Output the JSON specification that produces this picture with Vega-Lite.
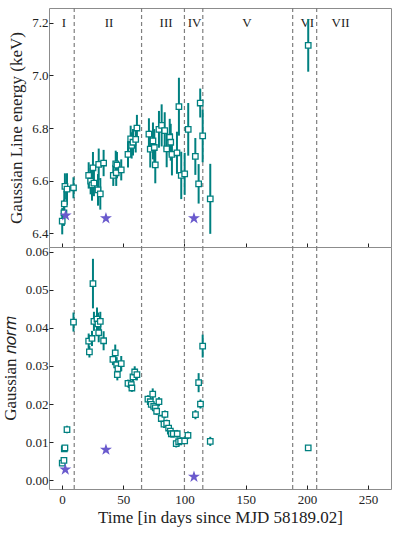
{
  "$schema": "https://vega.github.io/schema/vega-lite/v6.json",
  "padding": {"left": 0, "top": 6, "right": 6, "bottom": 4},
  "spacing": 0,
  "bounds": "flush",
  "config": {
    "font": "Liberation Serif",
    "view": {"stroke": "#8c8c8c", "strokeWidth": 1},
    "axis": {
      "grid": false,
      "domain": false,
      "tickSize": -4,
      "tickColor": "#222",
      "tickWidth": 1,
      "labelFont": "Liberation Serif",
      "labelFontSize": 13,
      "labelColor": "#222",
      "titleFont": "Liberation Serif",
      "titleFontSize": 17,
      "titleFontWeight": "normal",
      "titleColor": "#222"
    }
  },
  "datasets": {
    "energy": [
      {"t": 0.2, "v": 6.446, "e": 0.05},
      {"t": 1.6, "v": 6.478, "e": 0.05},
      {"t": 1.9, "v": 6.512, "e": 0.05},
      {"t": 2.4, "v": 6.578, "e": 0.05},
      {"t": 4.1, "v": 6.568, "e": 0.06},
      {"t": 9.4, "v": 6.573, "e": 0.04},
      {"t": 21.8, "v": 6.62, "e": 0.05},
      {"t": 23.4, "v": 6.598, "e": 0.05},
      {"t": 24.5, "v": 6.584, "e": 0.06},
      {"t": 25.3, "v": 6.649, "e": 0.06},
      {"t": 26.1, "v": 6.591, "e": 0.05},
      {"t": 29.4, "v": 6.565, "e": 0.06},
      {"t": 30.0, "v": 6.662, "e": 0.06},
      {"t": 31.3, "v": 6.55, "e": 0.06},
      {"t": 34.0, "v": 6.667, "e": 0.05},
      {"t": 41.9, "v": 6.62, "e": 0.04},
      {"t": 43.9, "v": 6.664, "e": 0.05},
      {"t": 44.3, "v": 6.63, "e": 0.05},
      {"t": 44.9, "v": 6.659, "e": 0.05},
      {"t": 48.4, "v": 6.641, "e": 0.04},
      {"t": 53.9, "v": 6.70, "e": 0.05},
      {"t": 56.1, "v": 6.759, "e": 0.05},
      {"t": 56.9, "v": 6.734, "e": 0.05},
      {"t": 58.0, "v": 6.746, "e": 0.05},
      {"t": 60.2, "v": 6.757, "e": 0.05},
      {"t": 61.2, "v": 6.80, "e": 0.05},
      {"t": 71.0, "v": 6.777, "e": 0.06},
      {"t": 72.1, "v": 6.72, "e": 0.07},
      {"t": 74.3, "v": 6.751, "e": 0.07},
      {"t": 75.4, "v": 6.726, "e": 0.07},
      {"t": 76.2, "v": 6.66, "e": 0.07},
      {"t": 79.2, "v": 6.795, "e": 0.07},
      {"t": 81.4, "v": 6.81, "e": 0.08},
      {"t": 83.9, "v": 6.79, "e": 0.07},
      {"t": 85.5, "v": 6.721, "e": 0.07},
      {"t": 88.0, "v": 6.765, "e": 0.07},
      {"t": 88.8, "v": 6.746, "e": 0.07},
      {"t": 89.8, "v": 6.70, "e": 0.08},
      {"t": 93.9, "v": 6.706, "e": 0.08},
      {"t": 95.5, "v": 6.881, "e": 0.11},
      {"t": 97.4, "v": 6.62, "e": 0.09},
      {"t": 100.2, "v": 6.626, "e": 0.08},
      {"t": 103.1, "v": 6.795, "e": 0.1},
      {"t": 108.9, "v": 6.692, "e": 0.07},
      {"t": 111.6, "v": 6.588, "e": 0.075},
      {"t": 112.9, "v": 6.895, "e": 0.055},
      {"t": 114.9, "v": 6.77, "e": 0.1},
      {"t": 121.1, "v": 6.531, "e": 0.133},
      {"t": 201.1, "v": 7.114, "e": 0.1}
    ],
    "norm": [
      {"t": 0.2, "v": 0.0045, "e": 0.0005},
      {"t": 1.6, "v": 0.0052, "e": 0.0004},
      {"t": 1.9, "v": 0.0082, "e": 0.0005},
      {"t": 2.4, "v": 0.0085, "e": 0.0005},
      {"t": 4.1, "v": 0.0133, "e": 0.001},
      {"t": 9.4, "v": 0.0415, "e": 0.0025},
      {"t": 21.8, "v": 0.0365, "e": 0.002},
      {"t": 22.4, "v": 0.0337, "e": 0.0015},
      {"t": 24.5, "v": 0.0372, "e": 0.002},
      {"t": 25.3, "v": 0.0516, "e": 0.0065},
      {"t": 26.1, "v": 0.0417, "e": 0.0025},
      {"t": 28.6, "v": 0.0423, "e": 0.003},
      {"t": 29.4, "v": 0.041, "e": 0.003},
      {"t": 30.0, "v": 0.0387, "e": 0.0025},
      {"t": 31.3, "v": 0.0417, "e": 0.0025},
      {"t": 34.0, "v": 0.0366, "e": 0.0025},
      {"t": 41.6, "v": 0.0317, "e": 0.0015},
      {"t": 43.5, "v": 0.0334, "e": 0.0022},
      {"t": 44.7, "v": 0.0303, "e": 0.002},
      {"t": 45.2, "v": 0.0277, "e": 0.0015},
      {"t": 45.7, "v": 0.0293, "e": 0.0015},
      {"t": 48.4, "v": 0.0306, "e": 0.002},
      {"t": 53.9, "v": 0.0254, "e": 0.001},
      {"t": 56.6, "v": 0.0251, "e": 0.001},
      {"t": 57.1, "v": 0.0242, "e": 0.001},
      {"t": 58.0, "v": 0.0271, "e": 0.0015},
      {"t": 59.4, "v": 0.0284, "e": 0.0015},
      {"t": 61.2, "v": 0.0277, "e": 0.0015},
      {"t": 70.2, "v": 0.0213, "e": 0.001},
      {"t": 72.1, "v": 0.0206, "e": 0.001},
      {"t": 72.9, "v": 0.0199, "e": 0.001},
      {"t": 74.1, "v": 0.0226, "e": 0.0015},
      {"t": 74.9, "v": 0.0194, "e": 0.001},
      {"t": 76.2, "v": 0.019, "e": 0.001},
      {"t": 77.3, "v": 0.0181, "e": 0.001},
      {"t": 79.2, "v": 0.0206, "e": 0.0012},
      {"t": 81.1, "v": 0.0162, "e": 0.001},
      {"t": 83.3, "v": 0.0147, "e": 0.001},
      {"t": 84.1, "v": 0.0173, "e": 0.001},
      {"t": 85.5, "v": 0.0149, "e": 0.001},
      {"t": 87.1, "v": 0.0137, "e": 0.001},
      {"t": 88.5, "v": 0.0129, "e": 0.001},
      {"t": 89.3, "v": 0.0122, "e": 0.001},
      {"t": 90.9, "v": 0.0122, "e": 0.001},
      {"t": 93.3, "v": 0.0096, "e": 0.001},
      {"t": 94.1, "v": 0.0122, "e": 0.001},
      {"t": 95.3, "v": 0.0101, "e": 0.001},
      {"t": 96.9, "v": 0.0103, "e": 0.001},
      {"t": 100.2, "v": 0.0103, "e": 0.0008},
      {"t": 102.9, "v": 0.0118, "e": 0.001},
      {"t": 109.0, "v": 0.0172, "e": 0.0012},
      {"t": 111.6, "v": 0.0256, "e": 0.0025},
      {"t": 113.1, "v": 0.0200, "e": 0.0012},
      {"t": 114.9, "v": 0.0352, "e": 0.003},
      {"t": 121.1, "v": 0.0102, "e": 0.0012},
      {"t": 201.1, "v": 0.0085, "e": 0.0005}
    ],
    "starsE": [
      {"t": 3.0, "v": 6.468},
      {"t": 35.9, "v": 6.457},
      {"t": 107.8, "v": 6.457}
    ],
    "starsN": [
      {"t": 2.7, "v": 0.0028},
      {"t": 35.9, "v": 0.008},
      {"t": 107.8, "v": 0.0009}
    ],
    "bounds": [
      {"t": 10}, {"t": 65}, {"t": 100}, {"t": 115}, {"t": 188.4}, {"t": 208}
    ],
    "phases": [
      {"t": 1.6, "label": "I"},
      {"t": 38.4, "label": "II"},
      {"t": 85, "label": "III"},
      {"t": 108.3, "label": "IV"},
      {"t": 151, "label": "V"},
      {"t": 200.3, "label": "VI"},
      {"t": 227.5, "label": "VII"}
    ]
  },
  "vconcat": [
    {
      "width": 342,
      "height": 239,
      "layer": [
        {
          "data": {"name": "bounds"},
          "mark": {"type": "rule", "color": "#7f7f7f", "strokeDash": [4, 3], "strokeWidth": 1.2},
          "encoding": {
            "x": {"field": "t", "type": "quantitative", "scale": {"domain": [-10.6, 268.7], "nice": false}}
          }
        },
        {
          "data": {"name": "phases"},
          "mark": {"type": "text", "fontSize": 13, "color": "#222", "baseline": "middle"},
          "encoding": {
            "x": {"field": "t", "type": "quantitative"},
            "y": {"datum": 7.2},
            "text": {"field": "label"}
          }
        },
        {
          "data": {"name": "energy"},
          "transform": [{"calculate": "datum.v - datum.e", "as": "lo"}, {"calculate": "datum.v + datum.e", "as": "hi"}],
          "mark": {"type": "rule", "color": "#008080", "strokeWidth": 2},
          "encoding": {
            "x": {"field": "t", "type": "quantitative"},
            "y": {"field": "lo", "type": "quantitative"},
            "y2": {"field": "hi"}
          }
        },
        {
          "data": {"name": "energy"},
          "mark": {"type": "point", "shape": "square", "filled": true, "fill": "white", "stroke": "#008080", "strokeWidth": 1.3, "size": 30, "opacity": 1},
          "encoding": {
            "x": {"field": "t", "type": "quantitative", "axis": {"labels": false, "title": null, "labelPadding": 0, "values": [0, 50, 100, 150, 200, 250]}},
            "y": {"field": "v", "type": "quantitative", "scale": {"domain": [6.348, 7.256], "nice": false, "zero": false},
              "axis": {"title": "Gaussian Line energy (keV)", "values": [6.4, 6.6, 6.8, 7.0, 7.2], "format": ".1f", "labelPadding": 5, "titlePadding": 6}}
          }
        },
        {
          "data": {"name": "starsE"},
          "mark": {"type": "point", "shape": "M0,-1L0.2245,-0.309L0.9511,-0.309L0.3633,0.118L0.5878,0.809L0,0.382L-0.5878,0.809L-0.3633,0.118L-0.9511,-0.309L-0.2245,-0.309Z", "filled": true, "color": "#6a5acd", "size": 160, "opacity": 1},
          "encoding": {
            "x": {"field": "t", "type": "quantitative"},
            "y": {"field": "v", "type": "quantitative"}
          }
        },
        {
          "mark": {"type": "text", "text": "(a)", "fontSize": 17, "color": "#222", "baseline": "middle"},
          "encoding": {
            "x": {"datum": 258.5},
            "y": {"datum": 7.2}
          }
        }
      ]
    },
    {
      "width": 342,
      "height": 242,
      "layer": [
        {
          "data": {"name": "bounds"},
          "mark": {"type": "rule", "color": "#7f7f7f", "strokeDash": [4, 3], "strokeWidth": 1.2},
          "encoding": {
            "x": {"field": "t", "type": "quantitative", "scale": {"domain": [-10.6, 268.7], "nice": false}}
          }
        },
        {
          "data": {"name": "norm"},
          "transform": [{"calculate": "datum.v - datum.e", "as": "lo"}, {"calculate": "datum.v + datum.e", "as": "hi"}],
          "mark": {"type": "rule", "color": "#008080", "strokeWidth": 2},
          "encoding": {
            "x": {"field": "t", "type": "quantitative"},
            "y": {"field": "lo", "type": "quantitative"},
            "y2": {"field": "hi"}
          }
        },
        {
          "data": {"name": "norm"},
          "mark": {"type": "point", "shape": "square", "filled": true, "fill": "white", "stroke": "#008080", "strokeWidth": 1.3, "size": 30, "opacity": 1},
          "encoding": {
            "x": {"field": "t", "type": "quantitative", "axis": {"title": "Time [in days since MJD 58189.02]", "values": [0, 50, 100, 150, 200, 250], "labelPadding": 8, "titlePadding": 3}},
            "y": {"field": "v", "type": "quantitative", "scale": {"domain": [-0.0023, 0.0612], "nice": false, "zero": false},
              "axis": {"title": "Gaussian 𝑛𝑜𝑟𝑚", "values": [0, 0.01, 0.02, 0.03, 0.04, 0.05, 0.06], "format": ".2f", "labelPadding": 5, "titlePadding": 6}}
          }
        },
        {
          "data": {"name": "starsN"},
          "mark": {"type": "point", "shape": "M0,-1L0.2245,-0.309L0.9511,-0.309L0.3633,0.118L0.5878,0.809L0,0.382L-0.5878,0.809L-0.3633,0.118L-0.9511,-0.309L-0.2245,-0.309Z", "filled": true, "color": "#6a5acd", "size": 160, "opacity": 1},
          "encoding": {
            "x": {"field": "t", "type": "quantitative"},
            "y": {"field": "v", "type": "quantitative"}
          }
        },
        {
          "mark": {"type": "text", "text": "(b)", "fontSize": 17, "color": "#222", "baseline": "middle"},
          "encoding": {
            "x": {"datum": 258.5},
            "y": {"datum": 0.0577}
          }
        }
      ]
    }
  ]
}
